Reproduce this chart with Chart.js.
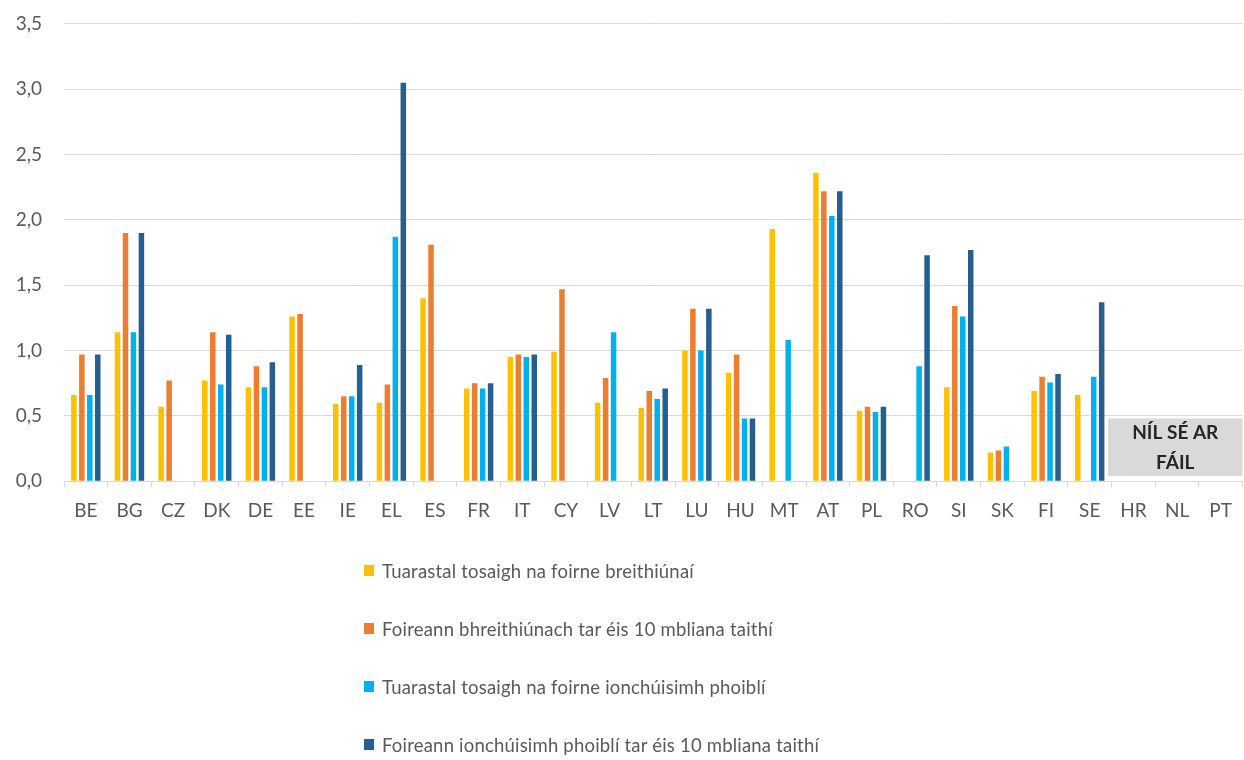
<!DOCTYPE html>
<html>
<head>
<meta charset="utf-8">
<script src="https://cdn.jsdelivr.net/npm/chart.js@4.4.1/dist/chart.umd.min.js"></script>
<style>
  html, body { margin: 0; padding: 0; background: #fff; }
  #wrap { position: relative; width: 1244px; height: 760px; }
  #legend { position: absolute; left: 364px; top: 560px; font-family: Lato, sans-serif; font-size: 18.5px; letter-spacing: 0.2px; color: #595959; }
  #legend div { height: 58px; display: flex; align-items: flex-start; }
  #legend span.box { display: inline-block; width: 10px; height: 11px; margin: 5px 8px 0 0; }
</style>
</head>
<body>
<div id="wrap">
  <canvas id="chart" width="1244" height="760"></canvas>
  <div id="legend"></div>
</div>
<script>
const countries = ["BE","BG","CZ","DK","DE","EE","IE","EL","ES","FR","IT","CY","LV","LT","LU","HU","MT","AT","PL","RO","SI","SK","FI","SE","HR","NL","PT"];

const judgesStart = [0.66,1.14,0.57,0.77,0.72,1.26,0.59,0.60,1.40,0.71,0.95,0.99,0.60,0.56,1.00,0.83,1.93,2.36,0.54,null,0.72,0.22,0.69,0.66,null,null,null];
const judges10    = [0.97,1.90,0.77,1.14,0.88,1.28,0.65,0.74,1.81,0.75,0.97,1.47,0.79,0.69,1.32,0.97,null,2.22,0.57,null,1.34,0.235,0.80,null,null,null,null];
const prosecStart = [0.66,1.14,null,0.74,0.72,null,0.65,1.87,null,0.71,0.95,null,1.14,0.63,1.00,0.48,1.08,2.03,0.53,0.88,1.26,0.265,0.755,0.80,null,null,null];
const prosec10    = [0.97,1.90,null,1.12,0.91,null,0.89,3.05,null,0.75,0.97,null,null,0.71,1.32,0.48,null,2.22,0.57,1.73,1.77,null,0.82,1.37,null,null,null];

const seriesNames = [
  "Tuarastal tosaigh na foirne breithiúnaí",
  "Foireann bhreithiúnach tar éis 10 mbliana taithí",
  "Tuarastal tosaigh na foirne ionchúisimh phoiblí",
  "Foireann ionchúisimh phoiblí tar éis 10 mbliana taithí"
];
const seriesColors = ["#FFC000", "#ED7D31", "#00B0F0", "#255E91"];

const naLabel = ["NÍL SÉ AR", "FÁIL"];
const naFrom = "HR";

// grey "not available" box over the last countries
const naBox = {
  id: "naBox",
  afterDatasetsDraw(chart) {
    const { ctx, chartArea, scales: { x, y } } = chart;
    const step = x.getPixelForValue(1) - x.getPixelForValue(0);
    const left = x.getPixelForValue(countries.indexOf(naFrom)) - step * 0.58;
    const top = y.getPixelForValue(0.48);
    const bottom = y.getPixelForValue(0.04);
    ctx.save();
    ctx.fillStyle = "#D9D9D9";
    ctx.fillRect(left, top, chartArea.right - left, bottom - top);
    ctx.fillStyle = "#262626";
    ctx.font = "bold 19px Lato, sans-serif";
    ctx.textAlign = "center";
    ctx.textBaseline = "middle";
    const cx = (left + chartArea.right) / 2;
    ctx.fillText(naLabel[0], cx, top + 14);
    ctx.fillText(naLabel[1], cx, top + 44);
    ctx.restore();
  }
};

const chart = new Chart(document.getElementById("chart"), {
  type: "bar",
  data: {
    labels: countries,
    datasets: [judgesStart, judges10, prosecStart, prosec10].map((d, i) => ({
      label: seriesNames[i],
      data: d,
      backgroundColor: seriesColors[i],
      categoryPercentage: 0.73,
      barPercentage: 0.69
    }))
  },
  options: {
    responsive: false,
    animation: false,
    layout: { padding: { top: 0, right: 1, bottom: 226, left: 0 } },
    plugins: {
      legend: { display: false },
      tooltip: { enabled: false }
    },
    scales: {
      x: {
        grid: { drawOnChartArea: false, drawTicks: true, tickLength: 6, color: "#D9D9D9" },
        border: { color: "#D9D9D9", width: 1 },
        ticks: { color: "#595959", font: { family: "Lato", size: 19 }, padding: 12, maxRotation: 0 }
      },
      y: {
        min: 0,
        max: 3.5,
        afterFit(scale) { scale.width = 64; },
        grid: { color: "#D9D9D9", drawTicks: false, lineWidth: 1 },
        border: { display: false },
        ticks: {
          stepSize: 0.5,
          padding: 22,
          color: "#595959",
          font: { family: "Lato", size: 19, lineHeight: 0.2 },
          callback: v => v.toFixed(1).replace(".", ",")
        }
      }
    }
  },
  plugins: [naBox]
});

const legend = document.getElementById("legend");
legend.innerHTML = chart.data.datasets.map(ds =>
  `<div><span class="box" style="background:${ds.backgroundColor}"></span>${ds.label}</div>`
).join("");
</script>
</body>
</html>
